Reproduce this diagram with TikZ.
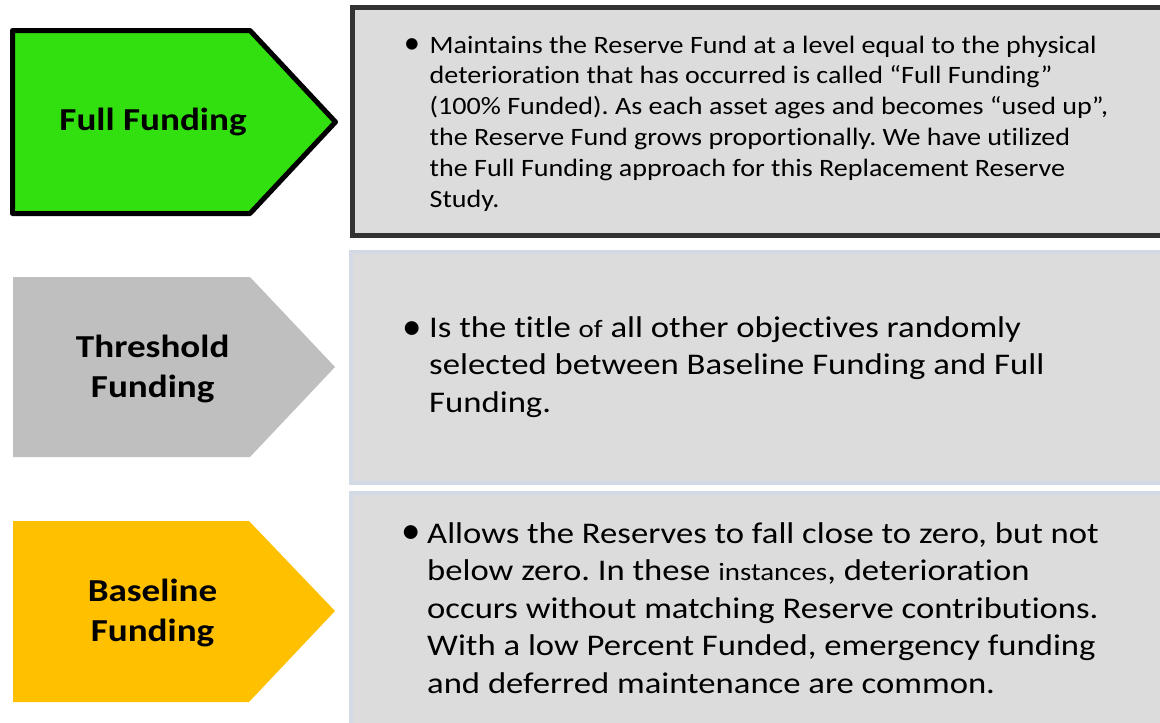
\documentclass[tikz,border=0pt]{standalone}
\usepackage{fontspec}
\setmainfont{Carlito}[Ligatures={NoCommon}]
\frenchspacing
\definecolor{fullgreen}{HTML}{33E00F}
\definecolor{thrgrey}{HTML}{BFBFBF}
\definecolor{baseyellow}{HTML}{FFC000}
\definecolor{boxfill}{HTML}{DCDCDC}
\definecolor{boxdark}{HTML}{333333}
\definecolor{boxlight}{HTML}{D3DAE6}
\tikzset{
  label/.style={font=\fontsize{32}{40}\selectfont\bfseries, inner sep=0pt},
  paraA/.style={font=\fontsize{25}{30.8}\selectfont, anchor=north west, inner sep=0pt},
  paraB/.style={font=\fontsize{30}{37.5}\selectfont, anchor=north west, inner sep=0pt},
  bul/.style={inner sep=0pt, anchor=center},
}
\begin{document}
\begin{tikzpicture}[x=1pt,y=-1pt]
\useasboundingbox (0,0) rectangle (1160,723);
% arrows
\draw[fill=fullgreen, line width=5pt, line join=round] (12.5,30.5) -- (250,30.5) -- (335.5,122) -- (250,213.5) -- (12.5,213.5) -- cycle;
\fill[thrgrey] (13,277) -- (250,277) -- (335,367) -- (250,457) -- (13,457) -- cycle;
\fill[baseyellow] (13,521) -- (249,521) -- (335,611) -- (249,702) -- (13,702) -- cycle;
\node[label] (full) at (153,122) {\scalebox{1.16}[1]{\begin{tabular}{@{}c@{}}Full Funding\end{tabular}}};
\node[label] (thr) at (152.7,369) {\scalebox{1.16}[1]{\begin{tabular}{@{}c@{}}Threshold\\Funding\end{tabular}}};
\node[label] (base) at (152.5,613.7) {\scalebox{1.16}[1]{\begin{tabular}{@{}c@{}}Baseline\\Funding\end{tabular}}};
% boxes
\draw[fill=boxfill, draw=boxdark, line width=5pt] (352.5,7.5) rectangle (1162,235.5);
\draw[fill=boxfill, draw=boxlight, line width=4pt] (351,252) rectangle (1162,483);
\draw[fill=boxfill, draw=boxlight, line width=4pt] (351,493) rectangle (1162,725);
% texts
\node[bul, font=\fontsize{25}{30.8}\selectfont] (b1) at (412,46.5) {\scalebox{1.3}{\textbullet}};
\node[paraA] (t1) at (429.5,31.4) {\scalebox{1.123}[1]{\begin{tabular}{@{}l@{}}Maintains the Reserve Fund at a level equal to the physical\\
deterioration that has occurred is called “Full Funding”\\
(100\% Funded). As each asset ages and becomes “used up”,\\
the Reserve Fund grows proportionally. We have utilized\\
the Full Funding approach for this Replacement Reserve\\
Study.\end{tabular}}};
\node[bul, font=\fontsize{30}{37.5}\selectfont] (b2) at (412.7,330.8) {\scalebox{1.3}{\textbullet}};
\node[paraB] (t2) at (429,310.75) {\scalebox{1.157}[1]{\begin{tabular}{@{}l@{}}Is the title {\fontsize{25}{30}\selectfont of} all other objectives randomly\\
selected between Baseline Funding and Full\\
Funding.\end{tabular}}};
\node[bul, font=\fontsize{30}{37.5}\selectfont] (b3) at (411.3,534.8) {\scalebox{1.3}{\textbullet}};
\node[paraB] (t3) at (427,516.75) {\scalebox{1.155}[1]{\begin{tabular}{@{}l@{}}Allows the Reserves to fall close to zero, but not\\
below zero. In these {\fontsize{25}{30}\selectfont instances}, deterioration\\
occurs without matching Reserve contributions.\\
With a low Percent Funded, emergency funding\\
and deferred maintenance are common.\end{tabular}}};
\end{tikzpicture}
\end{document}
